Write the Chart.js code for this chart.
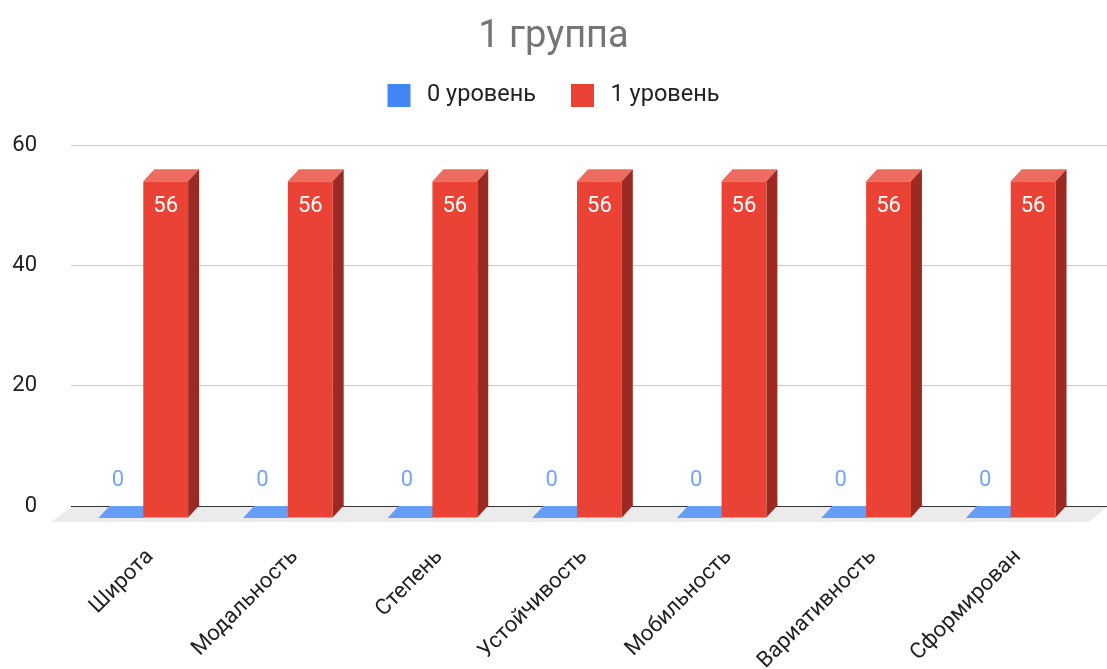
<!DOCTYPE html>
<html>
<head>
<meta charset="utf-8">
<script src="https://cdn.jsdelivr.net/npm/chart.js@4.4.1/dist/chart.umd.min.js"></script>
<style>
  html, body { margin: 0; padding: 0; background: #fff; }
  #wrap { width: 1107px; height: 669px; position: relative; }
</style>
</head>
<body>
<div id="wrap"><canvas id="chart"></canvas></div>
<script>
const categories = ['Широта', 'Модальность', 'Степень', 'Устойчивость', 'Мобильность', 'Вариативность', 'Сформирован'];
const level0 = [0, 0, 0, 0, 0, 0, 0];
const level1 = [56, 56, 56, 56, 56, 56, 56];
const yTicks = [0, 20, 40, 60];

// depth of the fake 3D boxes
const DX = 11;
const DY = 12;

const faces = [
    { front: '#4285f4', top: '#669df6', side: '#2a5fb8', label: '#74a6f6' },
    { front: '#ea4335', top: '#ee6b60', side: '#9c2a22', label: '#ffffff' },
];

const bars3d = {
    id: 'bars3d',
    beforeInit(chart) {
        // extra gap below the legend
        const fit = chart.legend.fit;
        chart.legend.fit = function () {
            fit.call(this);
            this.height += 28;
        };
    },
    beforeDatasetsDraw(chart) {
        const ctx = chart.ctx;
        const area = chart.chartArea;
        const y = chart.scales.y;
        const zeroY = y.getPixelForValue(0);

        ctx.save();
        // stretch gridlines to the right edge
        yTicks.forEach(v => {
            const py = Math.round(y.getPixelForValue(v) - 0.5) + 0.5;
            ctx.strokeStyle = v === 0 ? '#333333' : '#cccccc';
            ctx.lineWidth = 1;
            ctx.beginPath();
            ctx.moveTo(area.right - 1, py);
            ctx.lineTo(chart.width, py);
            ctx.stroke();
        });

        // floor
        ctx.fillStyle = '#ebebeb';
        ctx.beginPath();
        ctx.moveTo(area.left, zeroY + 1);
        ctx.lineTo(chart.width, zeroY + 1);
        ctx.lineTo(chart.width - 18, zeroY + 16);
        ctx.lineTo(area.left - 20, zeroY + 16);
        ctx.closePath();
        ctx.fill();

        const metas = chart.data.datasets.map((d, i) => chart.getDatasetMeta(i));
        for (let k = 0; k < categories.length; k++) {
            metas.forEach((meta, i) => {
                const el = meta.data[k];
                const f = faces[i];
                const l = el.x - el.width / 2;
                const r = el.x + el.width / 2;
                const top = el.y;
                const base = el.base;
                ctx.fillStyle = f.top;
                ctx.beginPath();
                ctx.moveTo(l, top + DY);
                ctx.lineTo(l + DX, top);
                ctx.lineTo(r + DX, top);
                ctx.lineTo(r, top + DY);
                ctx.closePath();
                ctx.fill();
                if (base > top) {
                    ctx.fillStyle = f.side;
                    ctx.beginPath();
                    ctx.moveTo(r, top + DY);
                    ctx.lineTo(r + DX, top);
                    ctx.lineTo(r + DX, base);
                    ctx.lineTo(r, base + DY);
                    ctx.closePath();
                    ctx.fill();
                    ctx.fillStyle = f.front;
                    ctx.fillRect(l, top + DY, r - l, base - top);
                }
            });
        }

        // value labels
        ctx.font = '22px Roboto';
        ctx.textAlign = 'center';
        ctx.textBaseline = 'middle';
        metas.forEach((meta, i) => {
            const values = chart.data.datasets[i].data;
            meta.data.forEach((el, k) => {
                ctx.fillStyle = faces[i].label;
                if (values[k] === 0) {
                    ctx.fillText(String(values[k]), el.x - 3, el.y - 26);
                } else {
                    ctx.fillText(String(values[k]), el.x, el.y + DY + 25);
                }
            });
        });
        ctx.restore();
        return false;
    }
};

new Chart(document.getElementById('chart'), {
    type: 'bar',
    data: {
        labels: categories,
        datasets: [
            { label: '0 уровень', data: level0, backgroundColor: faces[0].front },
            { label: '1 уровень', data: level1, backgroundColor: faces[1].front },
        ],
    },
    options: {
        responsive: true,
        maintainAspectRatio: false,
        animation: false,
        devicePixelRatio: 1,
        layout: { padding: 0 },
        datasets: {
            bar: { categoryPercentage: 0.62, barPercentage: 1 }
        },
        scales: {
            x: {
                grid: { display: false },
                border: { display: false },
                ticks: {
                    autoSkip: false,
                    minRotation: 45,
                    maxRotation: 45,
                    padding: 30,
                    labelOffset: 7,
                    color: '#222222',
                    font: { family: 'Roboto', size: 22 }
                },
                afterFit(s) { s.height = 163; }
            },
            y: {
                min: 0,
                max: 60,
                border: { display: false },
                grid: {
                    drawTicks: false,
                    color: c => (c.tick && c.tick.value === 0 ? '#333333' : '#cccccc')
                },
                ticks: {
                    stepSize: 20,
                    padding: 34,
                    color: '#222222',
                    font: { family: 'Roboto', size: 22 }
                },
                afterFit(s) { s.width = 71; }
            },
            // empty right-hand spacer axis
            yRight: {
                position: 'right',
                min: 0,
                max: 60,
                grid: { display: false, drawTicks: false },
                border: { display: false },
                ticks: { display: false },
                afterFit(s) { s.width = 24; }
            }
        },
        plugins: {
            title: {
                display: true,
                text: '1 группа',
                color: '#757575',
                font: { family: 'Roboto', size: 38, weight: 'normal', lineHeight: 0.6 },
                padding: { top: 26, bottom: 0 }
            },
            legend: {
                display: true,
                position: 'top',
                labels: {
                    boxWidth: 23,
                    boxHeight: 23,
                    padding: 35,
                    color: '#222222',
                    font: { family: 'Roboto', size: 23.5 },
                    generateLabels(chart) {
                        return chart.data.datasets.map((d, i) => ({
                            text: '\u2009' + d.label,
                            fillStyle: d.backgroundColor,
                            strokeStyle: d.backgroundColor,
                            lineWidth: 0,
                            fontColor: '#222222',
                            datasetIndex: i,
                            hidden: false
                        }));
                    }
                }
            },
            tooltip: { enabled: false }
        }
    },
    plugins: [bars3d]
});
</script>
</body>
</html>
